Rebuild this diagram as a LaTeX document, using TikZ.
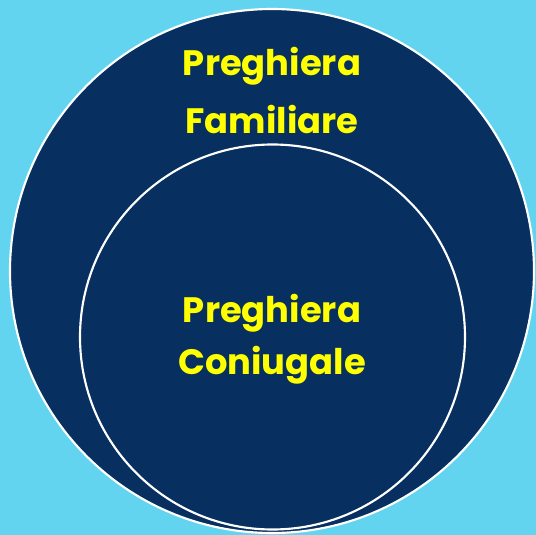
\documentclass[tikz,border=0pt]{standalone}
\usepackage{fontspec}
\setmainfont{Poppins}
\definecolor{skyback}{RGB}{99,212,239}
\definecolor{navyfill}{RGB}{7,47,95}
\definecolor{labelyellow}{RGB}{255,255,0}
\tikzset{
  ringlabel/.style={anchor=base, text=labelyellow, font=\fontsize{26.5}{30}\selectfont\bfseries, inner sep=0pt}
}
\begin{document}
\begin{tikzpicture}[x=0.75pt,y=0.75pt,yscale=-1,xscale=1]
%set diagram left start at 0, and has height of 535
\fill [skyback] (0,0) rectangle (536,535) ;
\useasboundingbox (0,0) rectangle (536,535) ;

%Shape: Circle [id:outer]
\draw  [draw=white, line width=1.6pt, fill=navyfill] (272,271) circle [radius=262] ;
%Shape: Circle [id:inner]
\draw  [draw=white, line width=1.6pt, fill=navyfill] (272.5,337) circle [radius=192.5] ;

% Text Node
\draw (272,76) node [ringlabel] (famtop) {Preghiera};
% Text Node
\draw (272,133) node [ringlabel] (fambot) {Familiare};
% Text Node
\draw (272,322) node [ringlabel] (contop) {Preghiera};
% Text Node
\draw (272,374) node [ringlabel] (conbot) {Coniugale};

\end{tikzpicture}
\end{document}
